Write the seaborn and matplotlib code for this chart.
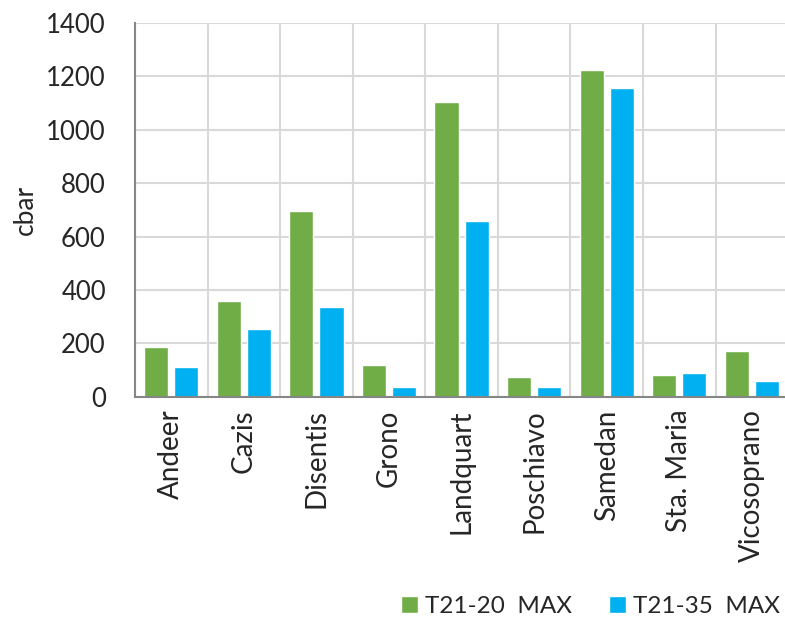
import matplotlib
matplotlib.use("Agg")
import matplotlib.pyplot as plt
import seaborn as sns
import pandas as pd
import numpy as np

stations = ["Andeer", "Cazis", "Disentis", "Grono", "Landquart", "Poschiavo",
            "Samedan", "Sta. Maria", "Vicosoprano"]
t21_20_max = [188, 360, 695, 120, 1105, 75, 1225, 82, 172]
t21_35_max = [112, 255, 336, 37, 658, 37, 1158, 90, 60]
series_names = ["T21-20  MAX", "T21-35  MAX"]
colors = ["#70AD47", "#00B0F0"]
yticks = [0, 200, 400, 600, 800, 1000, 1200, 1400]

df = pd.DataFrame({
    "station": stations * 2,
    "value": t21_20_max + t21_35_max,
    "series": [series_names[0]] * len(stations) + [series_names[1]] * len(stations),
})

sns.set_style("white")
plt.rcParams["font.family"] = ["Lato", "DejaVu Sans"]

fig = plt.figure(figsize=(7.85, 6.23), dpi=100)
ax = fig.add_axes([0.172, 0.363, 0.832, 0.600])

sns.barplot(data=df, x="station", y="value", hue="series", order=stations,
            hue_order=series_names, palette=colors, width=0.83, gap=0.2,
            saturation=1, ax=ax, legend=True)

ax.set_ylim(0, 1400)
ax.set_xlim(-0.5, len(stations) - 0.5)
ax.set_yticks(yticks)
ax.set_yticklabels([str(v) for v in yticks], fontsize=18.5)
ax.set_xticks(range(len(stations)))
ax.set_xticklabels(stations, rotation=90, fontsize=20)
ax.set_xticks(np.arange(-0.5, len(stations), 1.0), minor=True)
ax.tick_params(axis="x", which="major", length=0, pad=9)
ax.tick_params(axis="x", which="minor", length=6, width=1.5, color="#868686")
ax.tick_params(axis="y", which="major", length=7, width=1.5, color="#868686", pad=14)
ax.grid(axis="y", which="major", color="#D9D9D9", linewidth=1.5)
ax.grid(axis="x", which="minor", color="#D9D9D9", linewidth=1.5)
ax.set_axisbelow(True)
for s in ["top", "right"]:
    ax.spines[s].set_visible(False)
for s in ["left", "bottom"]:
    ax.spines[s].set_color("#868686")
    ax.spines[s].set_linewidth(1.5)
ax.set_xlabel("")
ax.set_ylabel("cbar", fontsize=19, labelpad=6)

handles, labels = ax.get_legend_handles_labels()
ax.legend_.remove()
fig.legend(handles, labels, loc="center right", bbox_to_anchor=(1.012, 0.027),
           ncol=2, frameon=False, fontsize=17.5, handlelength=0.7,
           handleheight=0.7, handletextpad=0.3, columnspacing=1.5,
           borderaxespad=0.2)

fig.savefig("out.png", dpi=100)
